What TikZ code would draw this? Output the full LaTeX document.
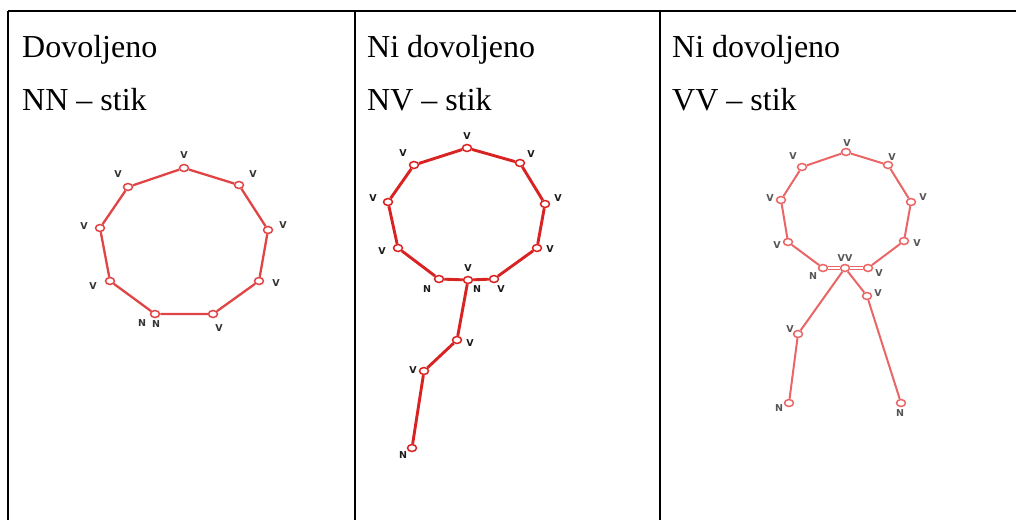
\documentclass[tikz,border=0pt]{standalone}
\usepackage{fontspec}
\setmainfont{Liberation Serif}
\newfontfamily\labfont{DejaVu Sans}
\usetikzlibrary{shapes.geometric}
\definecolor{redA}{HTML}{E04444}
\definecolor{redB}{HTML}{D92222}
\definecolor{redC}{HTML}{EA6666}
\definecolor{labA}{HTML}{333333}
\definecolor{labB}{HTML}{1A1A1A}
\definecolor{labC}{HTML}{555555}
\begin{document}
\begin{tikzpicture}[x=1pt,y=-1pt,
  vtx/.style={ellipse, draw=#1, fill=white, line width=1.5pt, minimum width=9pt, minimum height=7pt, inner sep=0pt},
  edgeA/.style={draw=redA, line width=2.3pt},
  edgeB/.style={draw=redB, line width=2.9pt},
  edgeC/.style={draw=redC, line width=2pt},
  lab/.style={font=\labfont\fontsize{9.5}{9.5}\selectfont\bfseries, text=#1, inner sep=0pt},
  head/.style={font=\fontsize{32}{32}\selectfont, anchor=base west, inner sep=0pt},
  rule/.style={line width=1.6pt, draw=black}]
\useasboundingbox (0,0) rectangle (1016,520);
% table rules
\coordinate (tl) at (8,11);
\coordinate (tr) at (1016,11);
\coordinate (bl) at (8,520);
\coordinate (m1t) at (355,11);
\coordinate (m1b) at (355,520);
\coordinate (m2t) at (660,11);
\coordinate (m2b) at (660,520);
\draw[rule] (tl) -- (tr);
\draw[rule] (tl) -- (bl);
\draw[rule] (m1t) -- (m1b);
\draw[rule] (m2t) -- (m2b);
% headings
\node[head] (h1a) at (22,57) {Dovoljeno};
\node[head] (h1b) at (22,110) {NN – stik};
\node[head] (h2a) at (367,57) {Ni dovoljeno};
\node[head] (h2b) at (367,110) {NV – stik};
\node[head] (h3a) at (672,57) {Ni dovoljeno};
\node[head] (h3b) at (672,110) {VV – stik};

% ---- first cell: ring closed by an N-N joint
\node[vtx=redA] (a1) at (184,168) {};
\node[vtx=redA] (a2) at (239,185) {};
\node[vtx=redA] (a3) at (268,230) {};
\node[vtx=redA] (a4) at (259,281) {};
\node[vtx=redA] (a5) at (213,314) {};
\node[vtx=redA] (a6) at (155,314) {};
\node[vtx=redA] (a7) at (110,281) {};
\node[vtx=redA] (a8) at (100,228) {};
\node[vtx=redA] (a9) at (128,187) {};
\draw[edgeA] (a1) -- (a2) -- (a3) -- (a4) -- (a5) -- (a6) -- (a7) -- (a8) -- (a9) -- (a1);
\node[lab=labA] (la1) at (184,155) {V};
\node[lab=labA] (la2) at (253,174) {V};
\node[lab=labA] (la3) at (283,225) {V};
\node[lab=labA] (la4) at (276,283) {V};
\node[lab=labA] (la5) at (219,328) {V};
\node[lab=labA] (la6) at (156,324) {N};
\node[lab=labA] (la6b) at (142,323) {N};
\node[lab=labA] (la7) at (93,286) {V};
\node[lab=labA] (la8) at (84,226) {V};
\node[lab=labA] (la9) at (118,174) {V};

% ---- second cell: ring with a tail on an N-V joint
\node[vtx=redB] (b1) at (467,148) {};
\node[vtx=redB] (b2) at (520,163) {};
\node[vtx=redB] (b3) at (545,204) {};
\node[vtx=redB] (b4) at (537,248) {};
\node[vtx=redB] (b5) at (494,279) {};
\node[vtx=redB] (b6) at (468,280) {};
\node[vtx=redB] (b7) at (439,279) {};
\node[vtx=redB] (b8) at (398,248) {};
\node[vtx=redB] (b9) at (388,202) {};
\node[vtx=redB] (b10) at (414,165) {};
\node[vtx=redB] (b11) at (457,340) {};
\node[vtx=redB] (b12) at (424,371) {};
\node[vtx=redB] (b13) at (412,448) {};
\draw[edgeB] (b1) -- (b2) -- (b3) -- (b4) -- (b5) -- (b6) -- (b7) -- (b8) -- (b9) -- (b10) -- (b1);
\draw[edgeB] (b6) -- (b11) -- (b12) -- (b13);
\node[lab=labB] (lb1) at (467,136) {V};
\node[lab=labB] (lb2) at (531,154) {V};
\node[lab=labB] (lb3) at (558,198) {V};
\node[lab=labB] (lb4) at (550,249) {V};
\node[lab=labB] (lb5) at (501,289) {V};
\node[lab=labB] (lb6) at (468,268) {V};
\node[lab=labB] (lb6b) at (477,289) {N};
\node[lab=labB] (lb7) at (427,289) {N};
\node[lab=labB] (lb8) at (382,251) {V};
\node[lab=labB] (lb9) at (373,198) {V};
\node[lab=labB] (lb10) at (403,153) {V};
\node[lab=labB] (lb11) at (470,343) {V};
\node[lab=labB] (lb12) at (413,370) {V};
\node[lab=labB] (lb13) at (403,455) {N};

% ---- third cell: ring with two legs on a V-V joint
\node[vtx=redC] (c1) at (846,152) {};
\node[vtx=redC] (c2) at (888,165) {};
\node[vtx=redC] (c3) at (911,202) {};
\node[vtx=redC] (c4) at (904,241) {};
\node[vtx=redC] (c5) at (868,268) {};
\node[vtx=redC] (c6) at (845,268) {};
\node[vtx=redC] (c7) at (823,268) {};
\node[vtx=redC] (c8) at (788,242) {};
\node[vtx=redC] (c9) at (781,200) {};
\node[vtx=redC] (c10) at (802,167) {};
\node[vtx=redC] (c11) at (867,296) {};
\node[vtx=redC] (c12) at (901,403) {};
\node[vtx=redC] (c13) at (798,334) {};
\node[vtx=redC] (c14) at (789,403) {};
\draw[edgeC] (c1) -- (c2) -- (c3) -- (c4) -- (c5);
\draw[edgeC] (c7) -- (c8) -- (c9) -- (c10) -- (c1);
\draw[edgeC, double=white, double distance=1.2pt, line width=1.2pt] (c7) -- (c6) -- (c5);
\draw[edgeC] (c6) -- (c11) -- (c12);
\draw[edgeC] (c6) -- (c13) -- (c14);
\node[lab=labC] (lc1) at (847,143) {V};
\node[lab=labC] (lc2) at (892,157) {V};
\node[lab=labC] (lc3) at (923,197) {V};
\node[lab=labC] (lc4) at (917,243) {V};
\node[lab=labC] (lc5) at (879,273) {V};
\node[lab=labC] (lc6) at (845,258) {VV};
\node[lab=labC] (lc7) at (813,276) {N};
\node[lab=labC] (lc8) at (777,245) {V};
\node[lab=labC] (lc9) at (770,198) {V};
\node[lab=labC] (lc10) at (793,156) {V};
\node[lab=labC] (lc11) at (878,293) {V};
\node[lab=labC] (lc12) at (900,413) {N};
\node[lab=labC] (lc13) at (790,329) {V};
\node[lab=labC] (lc14) at (779,408) {N};
\end{tikzpicture}
\end{document}
